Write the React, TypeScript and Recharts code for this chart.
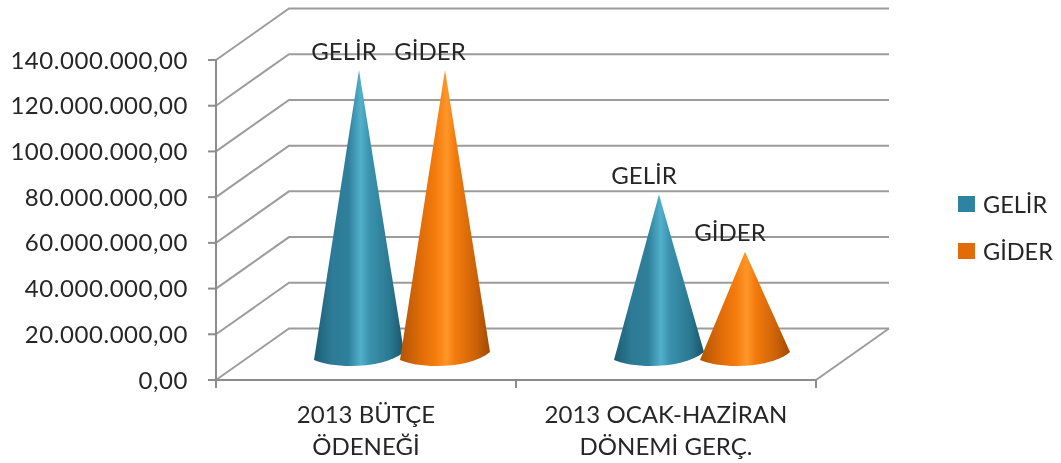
import React from "react";
import { BarChart, Bar, XAxis, YAxis, CartesianGrid, Legend } from "recharts";

const categories = ["2013 BÜTÇE|ÖDENEĞİ", "2013 OCAK-HAZİRAN|DÖNEMİ GERÇ."];
const gelirValues = [126000000, 71500000];
const giderValues = [126000000, 46500000];
const yTicks = [0, 20000000, 40000000, 60000000, 80000000, 100000000, 120000000, 140000000];
const blueStops: [number, string][] = [[0, "#1d5d74"], [0.2, "#2d7b96"], [0.38, "#2f809b"], [0.52, "#52b0cb"], [0.62, "#3a92ad"], [0.85, "#2a7790"], [1, "#1b5468"]];
const orangeStops: [number, string][] = [[0, "#b25405"], [0.25, "#e36e09"], [0.4, "#f57c0d"], [0.52, "#ff9628"], [0.62, "#f27a0c"], [0.85, "#cb6107"], [1, "#a04a04"]];

const data = categories.map((name, i) => ({ name, GELİR: gelirValues[i], GİDER: giderValues[i] }));

const FONT = "Lato, Carlito, sans-serif";
const TEXT = "#262626";
const LINE = "#9c9c9c";
const AXIS = "#8c8c8c";
const DX = 73;
const DY = -51.5;
const MIDX = 36;
const MIDY = -22;

const fmt = (v: number) => String(v).replace(/\B(?=(\d{3})+$)/g, ".") + ",00";

const cone = (grad: string) => (p: any) => {
  const cx = p.x + p.width / 2 + MIDX;
  const top = p.y + MIDY;
  const b = p.y + p.height + MIDY;
  const h = p.width / 2 + 2;
  const d = `M${cx},${top} L${cx + h},${b - 6} C${cx + 25},${b + 11} ${cx - 25},${b + 11} ${cx - h},${b + 2} Z`;
  return <path d={d} fill={`url(#${grad})`} />;
};

const seriesLabel = (text: string) => (p: any) => (
  <text x={p.x + p.width / 2 + 21} y={p.y + MIDY - 20} textAnchor="middle" dominantBaseline="central"
    fontFamily={FONT} fontSize={24} fill={TEXT}>{text}</text>
);

const gridLine = (p: any) => {
  const pts = `${p.x1},${p.y1} ${p.x1 + DX},${p.y1 + DY} ${p.x2 + DX},${p.y1 + DY}`;
  const isFloor = Math.abs(p.y1 - (p.y + p.height)) < 1;
  return (
    <g key={p.key}>
      <polyline points={pts} fill="none" stroke={LINE} strokeWidth={2} />
      {isFloor && <line x1={p.x2} y1={p.y1} x2={p.x2 + DX} y2={p.y1 + DY} stroke={LINE} strokeWidth={2} />}
    </g>
  );
};

const XTick = (p: any) => {
  const lines = String(p.payload.value).split("|");
  const half = p.width / categories.length / 2;
  return (
    <g>
      {[p.x - half, p.x + half].map((tx) => (
        <line key={tx} x1={tx} x2={tx} y1={380} y2={388} stroke={AXIS} strokeWidth={2} />
      ))}
      <text textAnchor="middle" fontFamily={FONT} fontSize={24} fill={TEXT}>
        {lines.map((l, i) => <tspan key={l} x={p.x} y={423 + i * 32}>{l}</tspan>)}
      </text>
    </g>
  );
};

const LegendBox = (p: any) => (
  <div style={{ fontFamily: FONT, fontSize: 23.5, color: TEXT }}>
    {(p.payload || []).map((e: any) => (
      <div key={e.value} style={{ display: "flex", alignItems: "center", height: 47 }}>
        <span style={{ width: 17, height: 16, background: e.color, marginRight: 8, display: "inline-block" }} />
        <span>{e.value}</span>
      </div>
    ))}
  </div>
);

const gradient = (id: string, stops: [number, string][]) => (
  <linearGradient id={id} x1="0" y1="0" x2="1" y2="0">
    {stops.map(([o, c]) => <stop key={o} offset={o} stopColor={c} />)}
  </linearGradient>
);

export default function App() {
  return (
    <div style={{ position: "absolute", left: 0, top: 0, width: 1061, height: 463, filter: "blur(0.4px)" }}>
      <BarChart width={1061} height={463} data={data} barCategoryGap={64} barGap={0}
        margin={{ top: 60, right: 142, bottom: 0, left: 0 }}>
        <defs>
          {gradient("coneBlue", blueStops)}
          {gradient("coneOrange", orangeStops)}
        </defs>
        <CartesianGrid vertical={false} horizontal={gridLine} />
        <XAxis dataKey="name" height={83} interval={0} tick={XTick} tickLine={false}
          axisLine={{ stroke: AXIS, strokeWidth: 2 }} />
        <YAxis width={216} domain={[0, 140000000]} ticks={yTicks} interval={0} tickFormatter={fmt} tickSize={8} tickMargin={20}
          tick={{ fontFamily: FONT, fontSize: 24, letterSpacing: 0.55, fill: TEXT }}
          axisLine={{ stroke: AXIS, strokeWidth: 2 }} tickLine={{ stroke: AXIS, strokeWidth: 2 }} />
        <Legend layout="vertical" align="right" verticalAlign="top" content={LegendBox}
          wrapperStyle={{ position: "absolute", left: 958, top: 180, width: 103 }} />
        <Bar dataKey="GELİR" fill="#2e84a0" isAnimationActive={false} shape={cone("coneBlue")} label={seriesLabel("GELİR")} />
        <Bar dataKey="GİDER" fill="#e36c09" isAnimationActive={false} shape={cone("coneOrange")} label={seriesLabel("GİDER")} />
      </BarChart>
    </div>
  );
}
